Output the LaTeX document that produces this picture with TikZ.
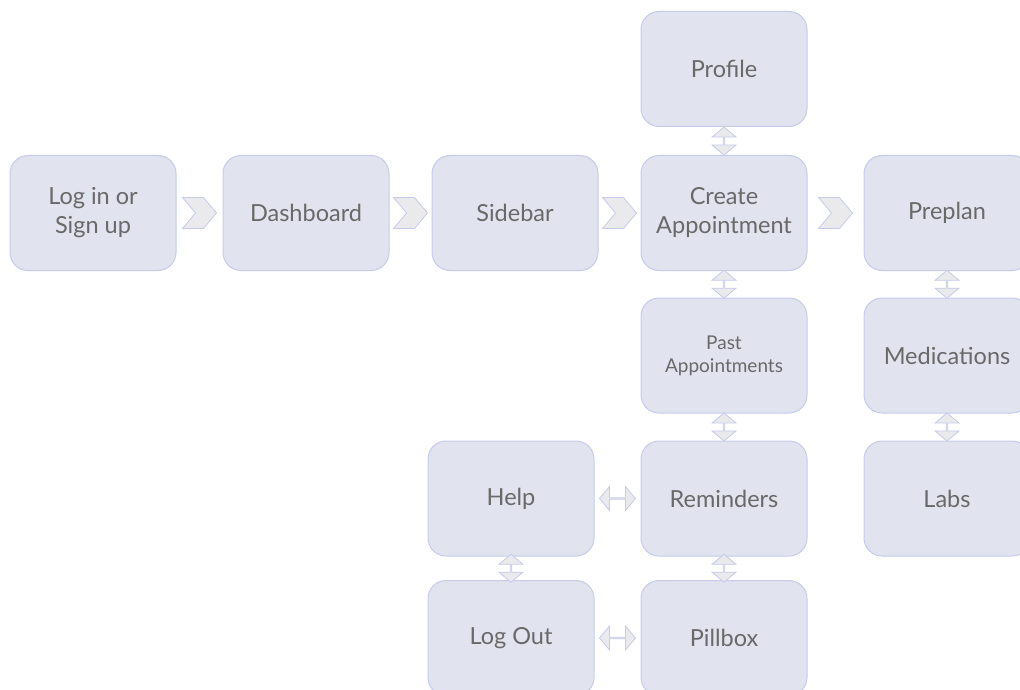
\documentclass[tikz,border=0pt]{standalone}
\usepackage{fontspec}
\setmainfont{Lato}
\usetikzlibrary{shapes.symbols,shapes.arrows,calc}
\definecolor{boxfill}{RGB}{225,227,238}
\definecolor{boxline}{RGB}{198,203,234}
\definecolor{linkfill}{RGB}{234,234,236}
\definecolor{textgray}{RGB}{105,105,105}
\tikzset
{
    screen/.style   = {rectangle, rounded corners=18pt, draw=boxline, fill=boxfill, line width=1pt, align=center, minimum width=166pt, minimum height=115pt, inner sep=2pt, text=textgray, font=\fontsize{23.5}{29}\selectfont},
    small/.style    = {font=\fontsize{19}{23}\selectfont},
    chevron/.style  = {signal, signal from=west, signal to=east, signal pointer angle=100, draw=boxline, fill=linkfill, line width=0.8pt, minimum width=34pt, minimum height=31pt, inner sep=0pt},
    updown/.style   = {double arrow, shape border rotate=90, double arrow tip angle=100, double arrow head extend=6pt, draw=boxline, fill=linkfill, line width=0.8pt, minimum width=24pt, minimum height=28pt, inner sep=0pt},
    leftright/.style= {updown, shape border rotate=0, minimum height=36pt}
}

\begin{document}
\begin{tikzpicture}[x=1pt, y=-1pt]
    \clip (0,0) rectangle (1020,690);
    % top row
    \node [screen] (login)   at (93,213)  {Log in or \\ Sign up};
    \node [screen] (dash)    at (306,213) {Dashboard};
    \node [screen] (side)    at (515,213) {Sidebar};
    \node [screen] (create)  at (724,213) {Create \\ Appointment};
    \node [screen] (preplan) at (947,213) {Preplan};
    % create appointment column
    \node [screen] (profile) at (724,69)    {Profile};
    \node [screen, small] (past) at (724,355.5) {Past \\ Appointments};
    \node [screen] (remind)  at (724,498.5) {Reminders};
    \node [screen] (pillbox) at (724,638)   {Pillbox};
    % help column
    \node [screen] (help)    at (511,498.5) {Help};
    \node [screen] (logout)  at (511,638)   {Log Out};
    % preplan column
    \node [screen] (meds)    at (947,355.5) {Medications};
    \node [screen] (labs)    at (947,498.5) {Labs};

    % chevrons
    \node [chevron] (c1) at ($(login.east)!0.5!(dash.west)$) {};
    \node [chevron] (c2) at ($(dash.east)!0.5!(side.west)$) {};
    \node [chevron] (c3) at ($(side.east)!0.5!(create.west)$) {};
    \node [chevron] (c4) at ($(create.east)!0.5!(preplan.west)$) {};

    % two way links
    \node [updown] (l1) at ($(profile.south)!0.5!(create.north)$) {};
    \node [updown] (l2) at ($(create.south)!0.5!(past.north)$) {};
    \node [updown] (l3) at ($(past.south)!0.5!(remind.north)$) {};
    \node [updown] (l4) at ($(remind.south)!0.5!(pillbox.north)$) {};
    \node [updown] (l5) at ($(help.south)!0.5!(logout.north)$) {};
    \node [updown] (l6) at ($(preplan.south)!0.5!(meds.north)$) {};
    \node [updown] (l7) at ($(meds.south)!0.5!(labs.north)$) {};
    \node [leftright] (l8) at ($(help.east)!0.5!(remind.west)$) {};
    \node [leftright] (l9) at ($(logout.east)!0.5!(pillbox.west)$) {};
\end{tikzpicture}
\end{document}
